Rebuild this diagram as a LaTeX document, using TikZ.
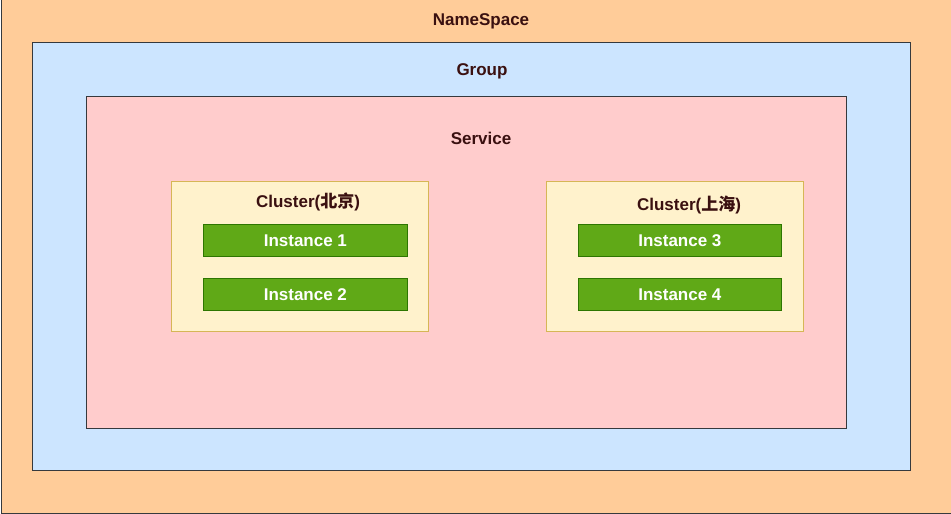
\documentclass[tikz,border=0pt]{standalone}
\usepackage{fontspec}
\setmainfont{Liberation Sans}
\newfontfamily\cjk{Noto Sans CJK SC}
\usepackage{xcolor}
\usepackage{tikz}
\usetikzlibrary{calc}

\definecolor{nsfill}{HTML}{FFCC99}
\definecolor{groupfill}{HTML}{CCE5FF}
\definecolor{servicefill}{HTML}{FFCCCC}
\definecolor{clusterfill}{HTML}{FFF2CC}
\definecolor{clusterline}{HTML}{D6B656}
\definecolor{instfill}{HTML}{60A917}
\definecolor{instline}{HTML}{2D7600}
\definecolor{boxline}{HTML}{36393D}
\definecolor{labeltext}{HTML}{3A1010}

\tikzset{
	layer/.style={draw=boxline, line width=0.9pt, inner sep=0pt, anchor=north west},
	clusterbox/.style={draw=clusterline, fill=clusterfill, line width=0.7pt, inner sep=0pt,
		anchor=north west, minimum width=257pt, minimum height=150pt},
	instbox/.style={draw=instline, fill=instfill, line width=0.7pt, inner sep=0pt,
		anchor=north west, minimum width=204pt, minimum height=32pt,
		text=white, font=\fontsize{17}{20}\selectfont\bfseries},
	title/.style={text=labeltext, font=\fontsize{17}{20}\selectfont\bfseries}
}

\begin{document}
\begin{tikzpicture}[x=1pt,y=-1pt]

	%page
	\useasboundingbox (0,0) rectangle (951,514);

	%(X,Y) of the instance columns
	\def\leftX{203}
	\def\rightX{578}
	\def\topY{224}
	\def\botY{278}

	% namespace
	\node[layer, fill=nsfill, minimum width=950pt, minimum height=514pt] (namespace) at (0.5,-1) {};
	\node[title] (nsLabel) at (481,21) {NameSpace};

	% group
	\node[layer, fill=groupfill, minimum width=878pt, minimum height=428pt] (group) at (32,42) {};
	\node[title] (groupLabel) at (482,71) {Group};

	% service
	\node[layer, fill=servicefill, minimum width=760pt, minimum height=332pt] (service) at (86,96) {};
	\node[title] (serviceLabel) at (481,138) {Service};

	% clusters
	\node[clusterbox] (clusterBJ) at (171,181) {};
	\node[title] (bjLabel) at (308,202) {Cluster({\cjk 北京})};

	\node[clusterbox] (clusterSH) at (546,181) {};
	\node[title] (shLabel) at (689,205) {Cluster({\cjk 上海})};

	% instances
	\node[instbox] (inst1) at (\leftX,\topY) {Instance 1};
	\node[instbox] (inst2) at (\leftX,\botY) {Instance 2};
	\node[instbox, minimum width=203pt] (inst3) at (\rightX,\topY) {Instance 3};
	\node[instbox, minimum width=203pt] (inst4) at (\rightX,\botY) {Instance 4};

\end{tikzpicture}
\end{document}
